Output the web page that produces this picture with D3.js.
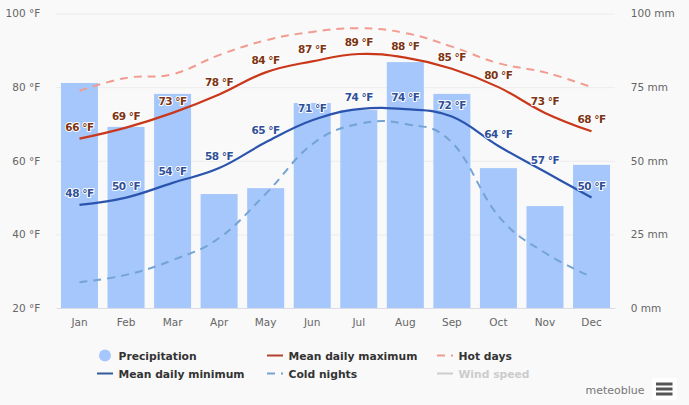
<!DOCTYPE html>
<html><head><meta charset="utf-8">
<script src="https://cdn.jsdelivr.net/npm/d3@7/dist/d3.min.js"></script>
<style>
html,body{margin:0;padding:0;background:#f9f9f9;overflow:hidden}
svg{display:block;font-family:"DejaVu Sans",sans-serif}
</style></head><body><svg id="c" width="689" height="405"></svg>
<script>
const months=["Jan","Feb","Mar","Apr","May","Jun","Jul","Aug","Sep","Oct","Nov","Dec"];
const precipitation=[76.4,61.5,72.7,38.7,40.7,69.6,67.2,83.5,72.7,47.5,34.6,48.6];
const meanMax=[66,69,73,78,84,87,89,88,85,80,73,68];
const meanMin=[48,50,54,58,65,71,74,74,72,64,57,50];
const hotDays=[79,82.5,83.5,88.7,92.7,95,96,94.7,91,86.5,84,80];
const coldNights=[27,29,33,39,51,64.5,70,70,65,45,35,28.5];
const tempTicks=[20,40,60,80,100];
const rainTicks=[0,25,50,75,100];

const svg=d3.select("#c");
const W={l:56.2,r:614.8,t:13.5,b:308};
const x=d3.scaleBand().domain(months).range([W.l,W.r]);
const yT=d3.scaleLinear().domain([20,100]).range([W.b,W.t]);
const yR=d3.scaleLinear().domain([0,100]).range([W.b,W.t]);
const cx=m=>x(m)+x.bandwidth()/2;
const tick="#666",grid="#ececec";

// gridlines
svg.append("g").selectAll("line").data(tempTicks.slice(1)).join("line")
 .attr("x1",W.l).attr("x2",W.r).attr("y1",d=>yT(d)+.5).attr("y2",d=>yT(d)+.5)
 .attr("stroke",grid);

// bars
svg.append("g").selectAll("rect").data(precipitation).join("rect")
 .attr("x",(d,i)=>cx(months[i])-18.5).attr("width",37)
 .attr("y",d=>yR(d)).attr("height",d=>yR(0)-yR(d)).attr("fill","#a5c7fb");

// axes
const gx=svg.append("g").attr("transform",`translate(0,${W.b})`).call(d3.axisBottom(x).tickSize(0).tickPadding(11));
gx.select(".domain").attr("stroke","#d8dde6").attr("stroke-width",1);
const gl=svg.append("g").attr("transform",`translate(${W.l},0)`).call(d3.axisLeft(yT).tickValues(tempTicks).tickSize(0).tickPadding(16).tickFormat(d=>d+" °F"));
gl.select(".domain").remove();
const gr=svg.append("g").attr("transform",`translate(${W.r},0)`).call(d3.axisRight(yR).tickValues(rainTicks).tickSize(0).tickPadding(16).tickFormat(d=>d+" mm"));
gr.select(".domain").remove();
svg.selectAll(".tick text").attr("font-family","'DejaVu Sans',sans-serif").attr("font-size",10.5).attr("fill",tick);

// lines
const line=d3.line().x((d,i)=>cx(months[i])).y(d=>yT(d)).curve(d3.curveCardinal.tension(-0.2));
const series=[
 {v:coldNights,c:"#74a3d4",w:2,dash:"8 6"},
 {v:hotDays,c:"#f19b91",w:2,dash:"8 6"},
 {v:meanMin,c:"#2a54ad",w:2.2},
 {v:meanMax,c:"#c9381b",w:2.2}
];
series.forEach(s=>svg.append("path").attr("d",line(s.v)).attr("fill","none")
 .attr("stroke",s.c).attr("stroke-width",s.w).attr("stroke-dasharray",s.dash||null));

// data labels
function labels(vals,color){
 svg.append("g").selectAll("text").data(vals).join("text")
  .attr("x",(d,i)=>cx(months[i])).attr("y",d=>yT(d)-8)
  .attr("text-anchor","middle").attr("font-size",10.5).attr("font-weight",700).attr("letter-spacing",-0.5)
  .attr("fill",color).attr("stroke","#fff").attr("stroke-width",2).attr("stroke-linejoin","round")
  .attr("paint-order","stroke").text(d=>d+" °F");
}
labels(meanMin,"#2f5098");
labels(meanMax,"#7d3412");

// legend
const lg=svg.append("g").attr("font-size",10.75).attr("font-weight",700).attr("fill","#333");
const leg=[
 {t:"Precipitation",sx:97,y:356,kind:"dot",c:"#a5c7fb"},
 {t:"Mean daily minimum",sx:97,y:374,c:"#335a9b"},
 {t:"Mean daily maximum",sx:267,y:356,c:"#b5402f"},
 {t:"Cold nights",sx:267,y:374,c:"#74a3d4",d:1},
 {t:"Hot days",sx:437,y:356,c:"#ec9c93",d:1},
 {t:"Wind speed",sx:437,y:374,c:"#cccccc",fade:1}
];
leg.forEach(e=>{
 if(e.kind==="dot") lg.append("circle").attr("cx",e.sx+8).attr("cy",e.y-.5).attr("r",6).attr("fill",e.c);
 else lg.append("line").attr("x1",e.sx).attr("x2",e.sx+16).attr("y1",e.y-.5).attr("y2",e.y-.5)
   .attr("stroke",e.c).attr("stroke-width",2).attr("stroke-dasharray",e.d?"8 6 2 6":null);
 lg.append("text").attr("x",e.sx+21.5).attr("y",e.y+3.5).attr("fill",e.fade?"#cccccc":"#333").text(e.t);
});

// credit and menu
svg.append("text").attr("x",644.5).attr("y",394).attr("text-anchor","end").attr("font-size",11).attr("fill","#777")
 .attr("font-family","'DejaVu Sans',sans-serif").text("meteoblue");
svg.append("rect").attr("x",652).attr("y",378).attr("width",25).attr("height",22).attr("fill","#fff");
svg.append("g").selectAll("rect").data([382,387,392]).join("rect")
 .attr("x",656).attr("width",16.5).attr("y",d=>d+.5).attr("height",3).attr("fill","#555");
</script></body></html>
